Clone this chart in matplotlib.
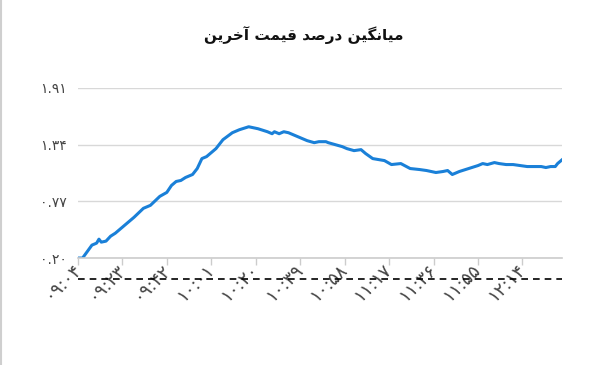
import matplotlib
matplotlib.use("Agg")
import matplotlib.pyplot as plt

# minutes after 09:04 and average last-price percent
minutes = [0, 2, 6, 8, 9, 10, 12, 14, 16, 19, 24, 28, 31, 35, 38, 40, 42, 44,
           46, 49, 51, 53, 55, 57, 59, 62, 66, 69, 73, 75, 77, 81, 83, 84, 86,
           88, 90, 92, 95, 98, 101, 103, 106, 107, 110, 113, 115, 118, 121,
           123, 126, 131, 134, 138, 142, 146, 149, 153, 156, 158, 160, 163,
           167, 171, 173, 175, 178, 180, 183, 186, 189, 192, 195, 198, 200,
           202, 204, 205, 207]
values = [0.20, 0.20, 0.33, 0.35, 0.39, 0.36, 0.37, 0.42, 0.45, 0.51, 0.61,
          0.70, 0.73, 0.82, 0.86, 0.93, 0.97, 0.98, 1.01, 1.04, 1.10, 1.20,
          1.22, 1.26, 1.30, 1.39, 1.46, 1.49, 1.52, 1.51, 1.50, 1.47, 1.45,
          1.47, 1.45, 1.47, 1.46, 1.44, 1.41, 1.38, 1.36, 1.37, 1.37, 1.36,
          1.34, 1.32, 1.30, 1.28, 1.29, 1.25, 1.20, 1.18, 1.14, 1.15, 1.10,
          1.09, 1.08, 1.06, 1.07, 1.08, 1.04, 1.07, 1.10, 1.13, 1.15, 1.14,
          1.16, 1.15, 1.14, 1.14, 1.13, 1.12, 1.12, 1.12, 1.11, 1.12, 1.12,
          1.15, 1.19]

y_ticks = [0.20, 0.77, 1.34, 1.91]
y_labels = ["۰.۲۰", "۰.۷۷", "۱.۳۴", "۱.۹۱"]
x_ticks = [0, 19, 38, 57, 76, 95, 114, 133, 152, 171, 190]
x_labels = ["۰۹:۰۴", "۰۹:۲۳", "۰۹:۴۲", "۱۰:۰۱", "۱۰:۲۰", "۱۰:۳۹",
            "۱۰:۵۸", "۱۱:۱۷", "۱۱:۳۶", "۱۱:۵۵", "۱۲:۱۴"]
title = "میانگین درصد قیمت آخرین"

# crude arabic shaping: (isolated, final, initial, medial)
FORMS = {
    "ا": ("\uFE8D", "\uFE8E", None, None),
    "آ": ("\uFE81", "\uFE82", None, None),
    "د": ("\uFEA9", "\uFEAA", None, None),
    "ر": ("\uFEAD", "\uFEAE", None, None),
    "م": ("\uFEE1", "\uFEE2", "\uFEE3", "\uFEE4"),
    "ن": ("\uFEE5", "\uFEE6", "\uFEE7", "\uFEE8"),
    "ص": ("\uFEB9", "\uFEBA", "\uFEBB", "\uFEBC"),
    "ق": ("\uFED5", "\uFED6", "\uFED7", "\uFED8"),
    "ت": ("\uFE95", "\uFE96", "\uFE97", "\uFE98"),
    "خ": ("\uFEA5", "\uFEA6", "\uFEA7", "\uFEA8"),
    "ی": ("\uFBFC", "\uFBFD", "\uFBFE", "\uFBFF"),
    "گ": ("\uFB92", "\uFB93", "\uFB94", "\uFB95"),
}


def shape(text):
    out = []
    for i, ch in enumerate(text):
        if ch not in FORMS:
            out.append(ch)
            continue
        prev = text[i - 1] if i > 0 else " "
        nxt = text[i + 1] if i + 1 < len(text) else " "
        joins_prev = prev in FORMS and FORMS[prev][2] is not None
        joins_next = nxt in FORMS and FORMS[ch][2] is not None
        iso, fin, ini, med = FORMS[ch]
        if joins_prev and joins_next:
            out.append(med)
        elif joins_prev:
            out.append(fin)
        elif joins_next:
            out.append(ini)
        else:
            out.append(iso)
    return "".join(reversed(out))


plt.rcParams['font.family'] = ['DejaVu Sans']

fig = plt.figure(figsize=(5.9, 3.65), dpi=100)
ax = fig.add_axes([0.132, 0.293, 0.821, 0.466])

ax.plot(minutes, values, color="#1a80d8", lw=2.2, solid_joinstyle="round")

ax.set_xlim(0, 207)
ax.set_ylim(0.20, 1.91)
ax.set_yticks(y_ticks)
ax.set_yticklabels(y_labels, fontsize=10, color="#444444")
ax.set_xticks(x_ticks)
ax.set_xticklabels(x_labels, fontsize=13, color="#444444", rotation=45,
                   ha="right", va="center", rotation_mode="anchor")
ax.tick_params(axis="y", length=0, pad=8)
ax.tick_params(axis="x", length=5, color="#cccccc", width=1, pad=1)
ax.grid(axis="y", color="#d8d8d8", lw=1)
for s in ["top", "right", "left"]:
    ax.spines[s].set_visible(False)
ax.spines["bottom"].set_color("#cccccc")
ax.spines["bottom"].set_linewidth(1.2)

# dashed line under the axis
ax.plot([0, 1], [-0.122, -0.122], transform=ax.transAxes, clip_on=False,
        color="black", lw=1.2, ls=(0, (4, 3)))

# thin frame on the left edge
fig.add_artist(plt.Line2D([0.001, 0.001], [0, 1], color="#cfcfcf", lw=1.5))

fig.text(304 / 590, 1 - 35 / 365, shape(title), ha="center", va="center",
         fontsize=11, fontweight="bold", color="#111111")

fig.savefig("out.png", dpi=100)
